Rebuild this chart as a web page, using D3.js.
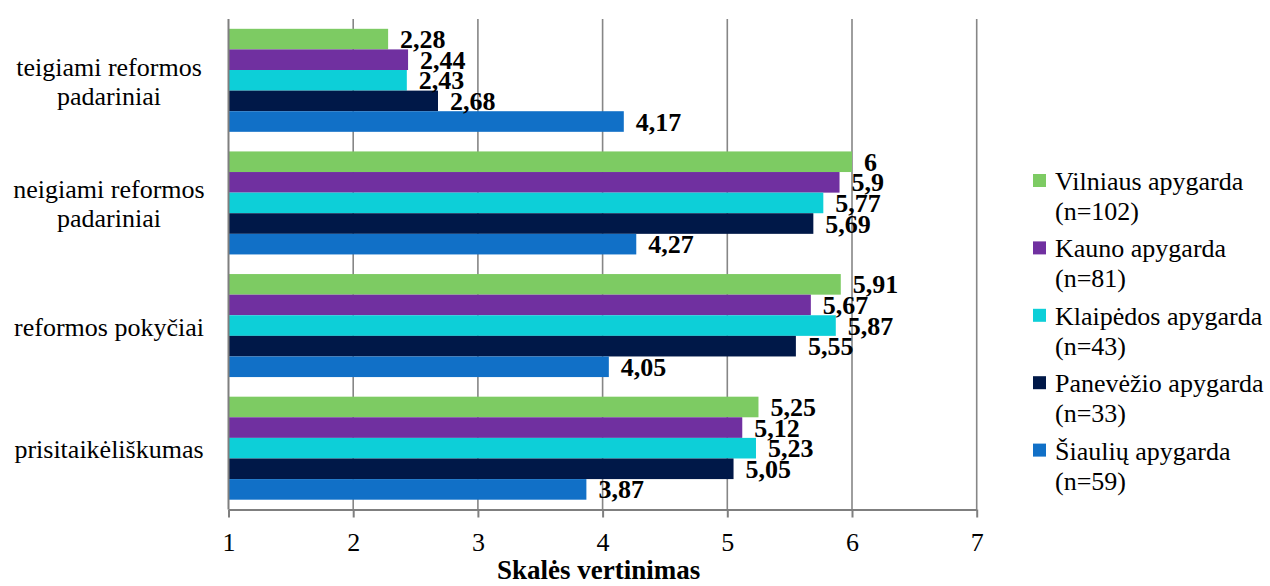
<!DOCTYPE html>
<html>
<head>
<meta charset="utf-8">
<script src="https://cdn.jsdelivr.net/npm/d3@7"></script>
<style>
  html, body { margin: 0; padding: 0; background: #fff; }
  svg { display: block; }
  text { font-family: "Liberation Serif", "Tinos", "Times New Roman", "DejaVu Serif", serif; fill: #000; }
</style>
</head>
<body>
<svg id="chart" width="1270" height="586"></svg>
<script>
// ---- data ----
const categories = [
  ["teigiami reformos", "padariniai"],
  ["neigiami reformos", "padariniai"],
  ["reformos pokyčiai"],
  ["prisitaikėliškumas"]
];
const seriesNames = [
  ["Vilniaus apygarda", "(n=102)"],
  ["Kauno apygarda", "(n=81)"],
  ["Klaipėdos apygarda", "(n=43)"],
  ["Panevėžio apygarda", "(n=33)"],
  ["Šiaulių apygarda", "(n=59)"]
];
const vilnius    = [2.28, 6.00, 5.91, 5.25];
const kaunas     = [2.44, 5.90, 5.67, 5.12];
const klaipeda   = [2.43, 5.77, 5.87, 5.23];
const panevezys  = [2.68, 5.69, 5.55, 5.05];
const siauliai   = [4.17, 4.27, 4.05, 3.87];
const seriesValues = [vilnius, kaunas, klaipeda, panevezys, siauliai];
const xTicks = [1, 2, 3, 4, 5, 6, 7];
const xTitle = "Skalės vertinimas";

const colors = ["#7dcb63", "#7030a0", "#0dcfd8", "#001848", "#1170c7"];

(function () {
// ---- layout ----
const svg = d3.select("#chart");
const pL = 228.5, pR = 976.7, pT = 19, pB = 509.5;
const FS = 26;
const FF = "Liberation Serif, Tinos, Times New Roman, DejaVu Serif, serif";

const x = d3.scaleLinear().domain([1, 7]).range([pL, pR]);
const catIdx = d3.range(categories.length);
const y0 = d3.scaleBand().domain(catIdx).range([pT, pB])
  .paddingInner(0.16).paddingOuter(0.08);
const y1 = d3.scaleBand().domain(d3.range(seriesValues.length))
  .range([0, y0.bandwidth()]);

// gridlines
svg.append("g").selectAll("line").data(xTicks.slice(1)).join("line")
  .attr("x1", d => x(d)).attr("x2", d => x(d))
  .attr("y1", pT).attr("y2", pB)
  .attr("stroke", "#868686").attr("stroke-width", 1.6);

// bars
const groups = svg.append("g").selectAll("g").data(catIdx).join("g")
  .attr("transform", c => `translate(0,${y0(c)})`);

groups.selectAll("rect")
  .data(c => seriesValues.map((s, i) => ({ i, v: s[c] })))
  .join("rect")
  .attr("x", x(1))
  .attr("y", d => y1(d.i))
  .attr("width", d => x(d.v) - x(1))
  .attr("height", y1.bandwidth())
  .attr("fill", d => colors[d.i]);

// axes lines
svg.append("line")
  .attr("x1", pL).attr("x2", pL).attr("y1", pT).attr("y2", pB)
  .attr("stroke", "#7f7f7f").attr("stroke-width", 2);

const xAxis = svg.append("g")
  .attr("transform", `translate(0,${pB})`)
  .call(d3.axisBottom(x).tickValues(xTicks).tickFormat(d3.format("d"))
        .tickSize(8).tickPadding(15).tickSizeOuter(0));
xAxis.select(".domain").attr("stroke", "#7f7f7f").attr("stroke-width", 2);
xAxis.selectAll(".tick line").attr("stroke", "#7f7f7f").attr("stroke-width", 2);
xAxis.selectAll(".tick text")
  .attr("font-size", FS)
  .attr("font-family", FF)
  .attr("fill", "#000");

// data labels
const fmt = v => String(v).replace(".", ",");
groups.selectAll("text.lbl")
  .data(c => seriesValues.map((s, i) => ({ i, v: s[c] })))
  .join("text")
  .attr("class", "lbl")
  .attr("x", d => x(d.v) + 12)
  .attr("y", d => y1(d.i) + y1.bandwidth() / 2 + 9)
  .attr("font-size", FS)
  .attr("font-weight", "bold")
  .text(d => fmt(d.v));

// category labels
const catG = svg.append("g");
categories.forEach((lines, c) => {
  const cy = y0(c) + y0.bandwidth() / 2;
  const n = lines.length;
  const t = catG.append("text")
    .attr("text-anchor", "middle")
    .attr("font-size", FS);
  lines.forEach((ln, k) => {
    t.append("tspan")
      .attr("x", 109)
      .attr("y", cy + 10 + (k - (n - 1) / 2) * 29)
      .text(ln);
  });
});

// axis title
svg.append("text")
  .attr("x", (pL + pR) / 2 - 4)
  .attr("y", 579)
  .attr("text-anchor", "middle")
  .attr("font-size", FS + 1)
  .attr("font-weight", "bold")
  .text(xTitle);

// legend
const leg = svg.append("g").selectAll("g").data(seriesNames).join("g")
  .attr("transform", (d, i) => `translate(1033,${174 + i * 67.4})`);
leg.append("rect")
  .attr("width", 13).attr("height", 13)
  .attr("fill", (d, i) => colors[i]);
leg.append("text")
  .attr("font-size", FS)
  .selectAll("tspan").data(d => d).join("tspan")
  .attr("x", 22)
  .attr("y", (d, k) => 16 + k * 30)
  .text(d => d);
})();
</script>
</body>
</html>
